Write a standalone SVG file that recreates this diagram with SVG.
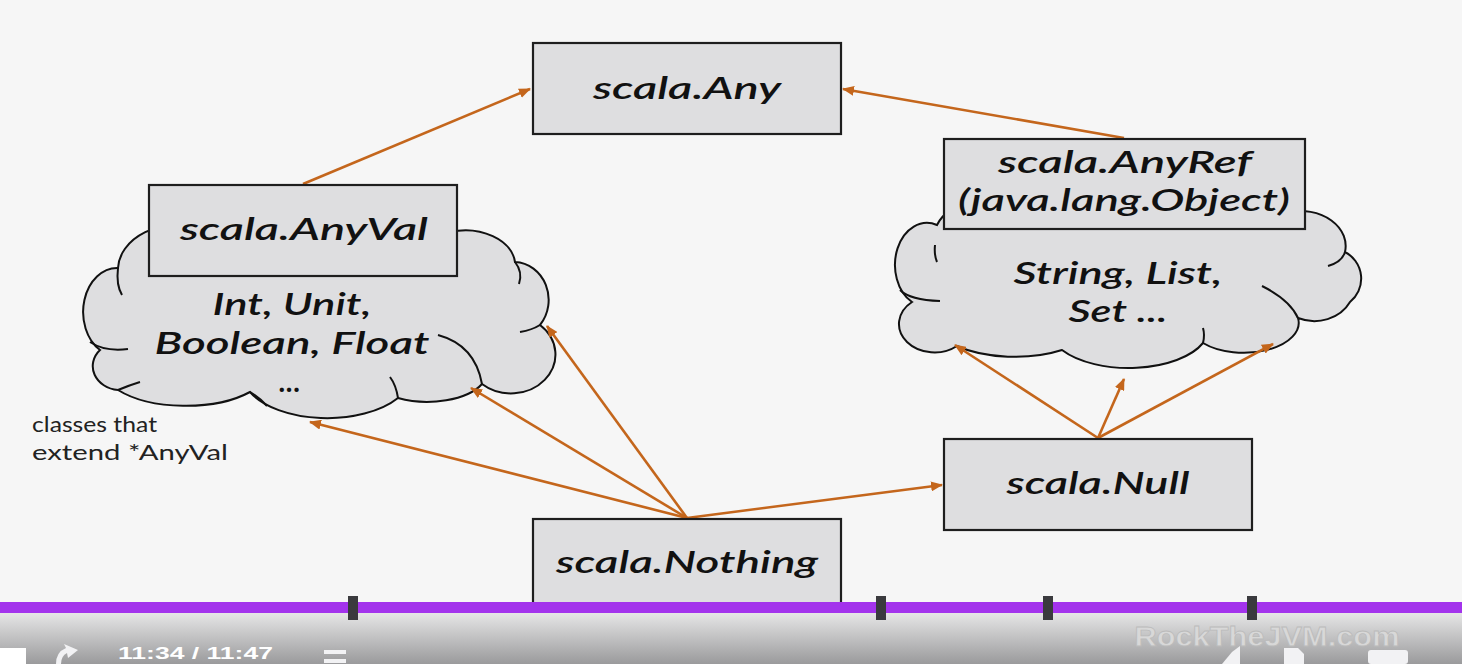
<svg xmlns="http://www.w3.org/2000/svg" width="1462" height="664" viewBox="0 0 1462 664">
<defs>
<style>
.box{fill:#dedee0;stroke:#1e1e1e;stroke-width:2.2}
.cloud{fill:#dedee0;stroke:#111;stroke-width:2}
.inner{fill:none;stroke:#111;stroke-width:2}
.t{font-family:Lato,"Open Sans","Liberation Sans",sans-serif;font-style:italic;font-weight:600;font-size:31px;fill:#111;text-anchor:middle}
.note{font-family:Lato,"Open Sans","Liberation Sans",sans-serif;font-size:22px;fill:#222}
.edge{stroke:#c4661c;stroke-width:2.6;fill:none;marker-end:url(#ah)}
.tick{fill:#3a3a3e}
.icon{fill:#f2f2f4}
</style>
<marker id="ah" viewBox="0 0 12 10" refX="11" refY="5" markerWidth="12" markerHeight="10" markerUnits="userSpaceOnUse" orient="auto">
<path d="M0,0 L12,5 L0,10 z" fill="#c4661c"/>
</marker>
<linearGradient id="ctrl" x1="0" y1="0" x2="0" y2="1">
<stop offset="0" stop-color="#e6e6e6"/>
<stop offset="1" stop-color="#9a9a9c"/>
</linearGradient>
</defs>
<rect x="0" y="0" width="1462" height="664" fill="#f6f6f6"/>

<g id="cloud-anyval">
<path class="cloud" d="M100,350 A34,44 0 0 1 118,268 A60,45 0 0 1 200,228 A70,40 0 0 1 320,216 A70,40 0 0 1 450,232 A50,35 0 0 1 515,262 A35,38 0 0 1 540,325 A40,35 0 0 1 482,384 A60,30 0 0 1 398,398 A85,45 0 0 1 250,392 A85,40 0 0 1 118,390 A28,24 0 0 1 100,350 Z"/>
<path class="inner" d="M118,268 Q116,285 122,295"/>
<path class="inner" d="M90,342 Q105,352 128,349"/>
<path class="inner" d="M515,262 Q523,272 519,284"/>
<path class="inner" d="M540,325 Q532,330 520,332"/>
<path class="inner" d="M438,335 Q475,345 482,384"/>
<path class="inner" d="M398,398 Q396,385 390,377"/>
<path class="inner" d="M250,392 Q260,398 267,406"/>
<path class="inner" d="M140,382 Q130,385 118,390"/>
<text class="t" x="292" y="315" textLength="159" lengthAdjust="spacingAndGlyphs">Int, Unit,</text>
<text class="t" x="292" y="354" textLength="275" lengthAdjust="spacingAndGlyphs">Boolean, Float</text>
<text class="t" x="290" y="392">...</text>
</g>

<g id="cloud-anyref">
<path class="cloud" d="M912,302 A32,42 0 0 1 937,225 A65,40 0 0 1 1040,205 A65,35 0 0 1 1160,203 A65,35 0 0 1 1290,212 A45,35 0 0 1 1345,252 A30,30 0 0 1 1350,302 A40,35 0 0 1 1298,318 A55,30 0 0 1 1203,343 A80,40 0 0 1 1062,350 A80,35 0 0 1 957,346 A30,24 0 0 1 912,302 Z"/>
<path class="inner" d="M935,245 Q934,255 937,262"/>
<path class="inner" d="M900,290 Q910,300 940,301"/>
<path class="inner" d="M1345,252 Q1342,262 1328,266"/>
<path class="inner" d="M1262,286 Q1290,300 1298,318"/>
<path class="inner" d="M1203,343 Q1205,335 1203,328"/>
<text class="t" x="1118" y="284" textLength="209" lengthAdjust="spacingAndGlyphs">String, List,</text>
<text class="t" x="1118" y="322" textLength="99" lengthAdjust="spacingAndGlyphs">Set ...</text>
</g>

<g id="connectors">
<path class="edge" d="M303,184 L530,89"/>
<path class="edge" d="M1124,138 L843,89"/>
<path class="edge" d="M687,518 L547,326"/>
<path class="edge" d="M687,518 L471,388"/>
<path class="edge" d="M687,518 L310,422"/>
<path class="edge" d="M687,518 L942,485"/>
<path class="edge" d="M1098,438 L955,345"/>
<path class="edge" d="M1098,438 L1124,379"/>
<path class="edge" d="M1098,438 L1273,344"/>
</g>

<g id="node-any">
<rect class="box" x="533" y="43" width="308" height="91"/>
<text class="t" x="687" y="99" textLength="188" lengthAdjust="spacingAndGlyphs">scala.Any</text>
</g>
<g id="node-anyval">
<rect class="box" x="149" y="185" width="308" height="91"/>
<text class="t" x="304" y="240" textLength="248" lengthAdjust="spacingAndGlyphs">scala.AnyVal</text>
</g>
<g id="node-anyref">
<rect class="box" x="944" y="139" width="361" height="90"/>
<text class="t" x="1125" y="173" textLength="254" lengthAdjust="spacingAndGlyphs">scala.AnyRef</text>
<text class="t" x="1124" y="211" textLength="332" lengthAdjust="spacingAndGlyphs">(java.lang.Object)</text>
</g>
<g id="node-null">
<rect class="box" x="944" y="439" width="308" height="91"/>
<text class="t" x="1098" y="494" textLength="183" lengthAdjust="spacingAndGlyphs">scala.Null</text>
</g>
<g id="node-nothing">
<rect class="box" x="533" y="519" width="308" height="95"/>
<text class="t" x="687" y="573" textLength="262" lengthAdjust="spacingAndGlyphs">scala.Nothing</text>
</g>

<g id="note">
<text class="note" x="32" y="432" textLength="125" lengthAdjust="spacingAndGlyphs">classes that</text>
<text class="note" x="32" y="460" textLength="196" lengthAdjust="spacingAndGlyphs">extend *AnyVal</text>
</g>

<g id="player">
<rect x="0" y="613" width="1462" height="51" fill="url(#ctrl)"/>
<rect x="0" y="602" width="1462" height="11" fill="#a333ec"/>
<rect class="tick" x="348" y="596" width="10" height="24"/>
<rect class="tick" x="876" y="596" width="10" height="24"/>
<rect class="tick" x="1043" y="596" width="10" height="24"/>
<rect class="tick" x="1247" y="596" width="10" height="24"/>
<text x="1267" y="646" font-family="Liberation Sans, sans-serif" font-size="28" font-weight="bold" fill="#d8d8d8" stroke="#bbbbbb" stroke-width="0.8" text-anchor="middle" textLength="265" lengthAdjust="spacingAndGlyphs">RockTheJVM.com</text>
<rect x="0" y="648" width="26" height="16" fill="#ffffff"/>
<path class="icon" d="M56,664 Q56,652 66,648 L64,644 L78,650 L68,658 L67,653 Q61,656 61,664 Z"/>
<text x="118" y="659" font-family="Liberation Sans, sans-serif" font-size="17" font-weight="bold" fill="#ffffff" textLength="155" lengthAdjust="spacingAndGlyphs">11:34 / 11:47</text>
<rect class="icon" x="324" y="650" width="22" height="4"/>
<rect class="icon" x="324" y="659" width="22" height="4"/>
<path class="icon" d="M1222,664 L1232,652 L1240,646 L1240,664 Z"/>
<path class="icon" d="M1284,648 L1298,648 L1304,654 L1304,664 L1284,664 Z"/>
<rect class="icon" x="1368" y="650" width="40" height="14" rx="3"/>
</g>
</svg>
